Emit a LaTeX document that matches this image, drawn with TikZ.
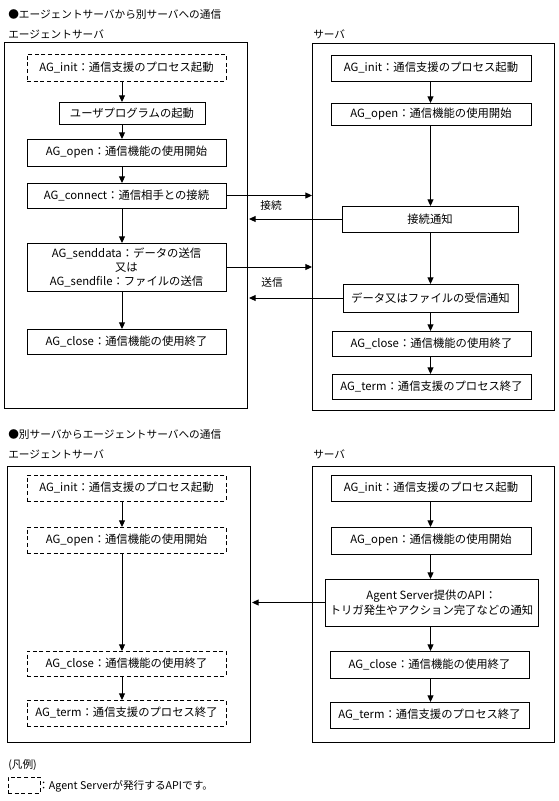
\documentclass[tikz,border=0pt]{standalone}
\usepackage{fontspec}
\setmainfont{Noto Sans CJK JP}
\usetikzlibrary{arrows.meta}
\tikzset{
  bx/.style 2 args={draw, line width=0.75pt, minimum width=#1*0.75pt, minimum height=#2*0.75pt,
    inner sep=0pt, outer sep=0pt, font=\fontsize{8.5}{10.5}\selectfont, align=center},
  dsh/.style={dash pattern=on 3pt off 2pt},
  arr/.style={line width=0.75pt, -{Triangle[length=5pt,width=4.5pt]}},
  lbl/.style={font=\fontsize{8}{10}\selectfont, inner sep=0pt, anchor=west},
  frm/.style 2 args={draw, line width=0.75pt, minimum width=#1*0.75pt, minimum height=#2*0.75pt,
    inner sep=0pt, outer sep=0pt}
}
\begin{document}
\begin{tikzpicture}[x=0.75pt,y=-0.75pt]
\useasboundingbox (0,0) rectangle (558,801);
% ---------- top section ----------
\node[lbl] (t1) at (8,14) {●エージェントサーバから別サーバへの通信};
\node[lbl] (t1a) at (8,34) {エージェントサーバ};
\node[lbl] (t1b) at (313,34) {サーバ};
\node[frm={243}{366}] (lo1) at (125.5,225) {};
\node[frm={242}{367}] (ro1) at (433,226.5) {};
\coordinate (lax) at (122,0);
\coordinate (rax) at (430.5,0);
% left boxes
\node[bx={199}{27},dsh] (linit) at (126.5,67.5) {AG\_init：通信支援のプロセス起動};
\node[bx={146}{22}] (luser) at (132,113) {ユーザプログラムの起動};
\node[bx={199}{27}] (lopen) at (126.5,152.5) {AG\_open：通信機能の使用開始};
\node[bx={199}{25}] (lconn) at (126.5,195.5) {AG\_connect：通信相手との接続};
\node[bx={199}{48}] (lsend) at (126.5,267) {AG\_senddata：データの送信\\又は\\AG\_sendfile：ファイルの送信};
\node[bx={199}{25}] (lclose) at (126.5,341.5) {AG\_close：通信機能の使用終了};
% right boxes
\node[bx={200}{26}] (rinit) at (431,68) {AG\_init：通信支援のプロセス起動};
\node[bx={200}{22}] (ropen) at (431,114) {AG\_open：通信機能の使用開始};
\node[bx={176}{26}] (rnot) at (430,219) {接続通知};
\node[bx={175}{28}] (rrecv) at (430.5,298) {データ又はファイルの受信通知};
\node[bx={199}{25}] (rclose) at (431.5,343.5) {AG\_close：通信機能の使用終了};
\node[bx={199}{25}] (rterm) at (431.5,386.5) {AG\_term：通信支援のプロセス終了};
% arrows
\draw[arr] (linit.south -| lax) -- (luser.north -| lax);
\draw[arr] (luser.south -| lax) -- (lopen.north -| lax);
\draw[arr] (lopen.south -| lax) -- (lconn.north -| lax);
\draw[arr] (lconn.south -| lax) -- (lsend.north -| lax);
\draw[arr] (lsend.south -| lax) -- (lclose.north -| lax);
\draw[arr] (rinit.south -| rax) -- (ropen.north -| rax);
\draw[arr] (ropen.south -| rax) -- (rnot.north -| rax);
\draw[arr] (rnot.south -| rax) -- (rrecv.north -| rax);
\draw[arr] (rrecv.south -| rax) -- (rclose.north -| rax);
\draw[arr] (rclose.south -| rax) -- (rterm.north -| rax);
\draw[arr] (lconn.east) -- (lconn.east -| ro1.west);
\draw[arr,shorten >=1.5pt] (rnot.west) -- (rnot.west -| lo1.east);
\draw[arr] (lsend.east) -- (lsend.east -| ro1.west);
\draw[arr,shorten >=1.5pt] (rrecv.west) -- (rrecv.west -| lo1.east);
\node[lbl,anchor=center] (c1) at (271,205) {接続};
\node[lbl,anchor=center] (c2) at (272,282) {送信};
% ---------- bottom section ----------
\node[lbl] (t2) at (8,434) {●別サーバからエージェントサーバへの通信};
\node[lbl] (t2a) at (8,454) {エージェントサーバ};
\node[lbl] (t2b) at (313,454) {サーバ};
\node[frm={243}{276}] (lo2) at (128.5,604) {};
\node[frm={242}{276}] (ro2) at (433,604) {};
% left boxes (dashed)
\node[bx={199}{26},dsh] (binit) at (126.5,488) {AG\_init：通信支援のプロセス起動};
\node[bx={199}{26},dsh] (bopen) at (126.5,540) {AG\_open：通信機能の使用開始};
\node[bx={199}{25},dsh] (bclose) at (126.5,663.5) {AG\_close：通信機能の使用終了};
\node[bx={199}{26},dsh] (bterm) at (126.5,713) {AG\_term：通信支援のプロセス終了};
% right boxes
\node[bx={200}{26}] (sinit) at (431,488) {AG\_init：通信支援のプロセス起動};
\node[bx={200}{27}] (sopen) at (431,540.5) {AG\_open：通信機能の使用開始};
\node[bx={213}{47},font=\fontsize{8.5}{11.25}\selectfont] (sapi) at (431.5,602.5) {Agent Server提供のAPI：\\トリガ発生やアクション完了などの通知};
\node[bx={199}{27}] (sclose) at (429.5,664.5) {AG\_close：通信機能の使用終了};
\node[bx={199}{26}] (sterm) at (429.5,715) {AG\_term：通信支援のプロセス終了};
% arrows
\draw[arr] (binit.south -| lax) -- (bopen.north -| lax);
\draw[arr] (bopen.south -| lax) -- (bclose.north -| lax);
\draw[arr] (bclose.south -| lax) -- (bterm.north -| lax);
\draw[arr] (sinit.south -| rax) -- (sopen.north -| rax);
\draw[arr] (sopen.south -| rax) -- (sapi.north -| rax);
\draw[arr] (sapi.south -| rax) -- (sclose.north -| rax);
\draw[arr] (sclose.south -| rax) -- (sterm.north -| rax);
\draw[arr,shorten >=1.5pt] (sapi.west) -- (sapi.west -| lo2.east);
% ---------- legend ----------
\node[lbl] (lg) at (8,765) {(凡例)};
\node[frm={32}{16},dsh] (lgbox) at (24,785) {};
\node[lbl] (lgt) at (38,786) {：Agent Serverが発行するAPIです。};
\end{tikzpicture}
\end{document}
